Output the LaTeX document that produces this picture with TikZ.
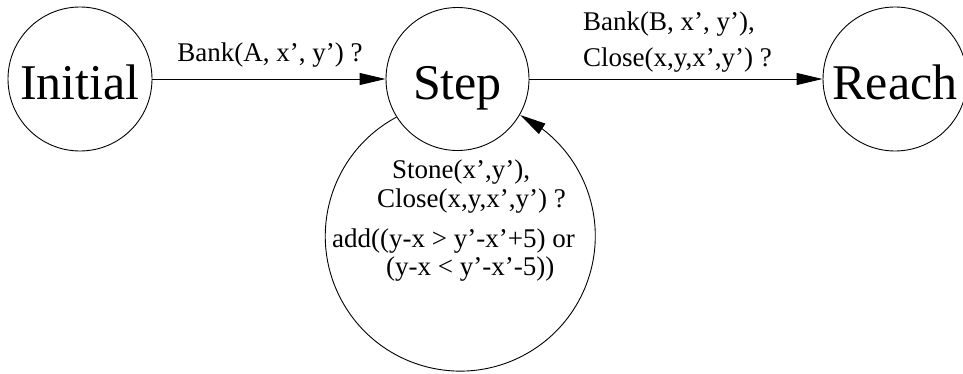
\documentclass[tikz,border=0pt]{standalone}
\usepackage{fontspec}
\setmainfont{Liberation Serif}
\usetikzlibrary{arrows.meta,bending,calc}
\begin{document}
\begin{tikzpicture}[x=1pt,y=1pt,
  state/.style={circle,draw,line width=0.9pt,minimum size=144pt,inner sep=0pt,
    text height=42pt,text depth=0pt,font=\fontsize{50}{50}\selectfont},
  lbl/.style={font=\fontsize{27}{30}\selectfont,inner sep=0pt},
  edge/.style={line width=0.9pt,-{Triangle[length=26pt,width=12pt]}}]
\useasboundingbox (0,0) rectangle (963,373);
\node[state] (init) at (80,294) {Initial};
\node[state,minimum size=143pt] (step) at (457.5,294) {Step};
\node[state] (reach) at (895,294) {Reach};
\coordinate (loopc) at (460,138);
\draw[edge] (init) -- (step);
\draw[edge] (step) -- (reach);
\draw[edge] (step.212) arc[start angle=118.2, end angle=423.7, radius=135];
\node[lbl,anchor=base] (l1) at (270,311) {Bank(A, x', y') ?};
\node[lbl,anchor=base west] (l2a) at (583,342) {Bank(B, x', y'),};
\node[lbl,anchor=base west] (l2b) at (583,306) {Close(x,y,x',y') ?};
\node[lbl,anchor=base west] (l3a) at (392,195) {Stone(x',y'),};
\node[lbl,anchor=base west] (l3b) at (377,166) {Close(x,y,x',y') ?};
\node[lbl,anchor=base west] (l3c) at (332,126) {add((y-x > y'-x'+5) or};
\node[lbl,anchor=base west] (l3d) at (386,98) {(y-x < y'-x'-5))};
\end{tikzpicture}
\end{document}
